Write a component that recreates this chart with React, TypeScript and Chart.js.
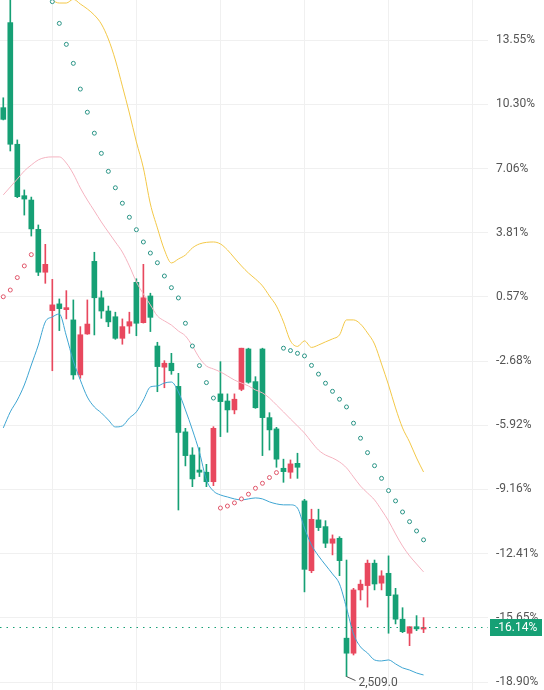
import React, { useEffect, useRef } from "react";
import { Chart, registerables } from "chart.js";

Chart.register(...registerables);

// Candle values (percent change axis)
const opens = [10.14, 14.44, 8.29, 5.69, 5.47, 3.99, 1.82, -0.12, 0.22, -0.07, -0.59, -3.37, -1.3, 2.37, 0.53, -0.14, -0.43, -1.52, -0.9, 1.31, -0.73, 0.62, -1.91, -2.98, -2.78, -3.95, -6.25, -7.42, -8.18, -8.29, -8.77, -4.33, -4.69, -5.14, -4.1, -2.06, -3.71, -2.06, -5.53, -6.1, -8.09, -8.29, -7.84, -9.74, -13.27, -10.7, -11.04, -11.88, -11.63, -16.68, -17.44, -14.24, -14.02, -12.89, -13.9, -13.4, -14.49, -15.72, -16.43, -16.1, -16.22];
const highs = [10.64, 15.9, 8.51, 5.98, 5.62, 4.21, 3.23, 1.46, 0.47, 0.89, 0.42, -0.93, 0.42, 2.83, 0.87, 0.11, -0.2, -0.54, -0.2, 1.49, 2.22, 0.76, -1.72, -2.65, -2.28, -3.29, -6.07, -7.05, -7.05, -7.89, -5.99, -2.7, -4.33, -4.33, -2.02, -2.02, -3.46, -2.02, -5.28, -6.02, -7.63, -7.67, -7.33, -9.66, -10.16, -10.16, -10.74, -11.46, -11.55, -12.73, -14.16, -13.74, -12.73, -12.73, -13.27, -12.52, -14.16, -15.14, -16.1, -15.54, -15.64];
const lows = [9.52, 7.95, 5.59, 4.71, 3.65, 1.65, 1.26, -3.16, -1.13, -0.54, -3.59, -3.54, -1.32, -1.35, -0.51, -0.93, -1.57, -1.82, -1.27, -1.39, -0.75, -1.18, -4.22, -4.02, -3.34, -10.2, -7.97, -9.02, -8.51, -9.02, -8.97, -6.49, -6.27, -5.34, -4.17, -3.79, -5.06, -7.45, -7.17, -8.04, -8.8, -8.6, -8.6, -14.34, -13.37, -11.24, -12.1, -12.47, -13.52, -18.62, -17.53, -14.75, -15.11, -14.24, -14.24, -16.43, -15.96, -16.4, -17.06, -16.3, -16.4];
const closes = [9.55, 8.29, 5.64, 5.52, 4.01, 1.82, 2.22, 0.17, -0.02, 0.03, -3.37, -1.34, -0.8, 0.53, -0.14, -0.69, -1.52, -0.93, -0.68, -0.76, 0.53, -0.46, -2.95, -2.78, -3.16, -6.28, -7.45, -8.63, -8.29, -8.77, -6.07, -4.72, -5.14, -4.6, -2.02, -3.74, -5.03, -5.53, -6.15, -7.63, -8.26, -7.87, -8.04, -13.2, -10.67, -11.09, -11.88, -11.66, -12.76, -17.44, -14.24, -13.95, -12.89, -13.94, -13.53, -14.53, -15.72, -16.35, -16.1, -16.21, -16.14];

// Bollinger-style bands
const upperBand = [null, null, null, null, null, null, 16.09, 15.6, 15.43, 15.43, 15.62, 15.38, 15.13, 14.82, 14.37, 13.61, 12.55, 11.23, 9.87, 8.41, 7.09, 5.27, 4.06, 2.95, 2.29, 2.49, 2.69, 3.05, 3.25, 3.33, 3.35, 3.25, 2.95, 2.54, 2.14, 1.78, 1.48, 1.13, 0.62, 0.11, -0.69, -1.65, -1.93, -1.65, -1.98, -1.86, -1.7, -1.55, -1.35, -0.59, -0.59, -0.8, -1.25, -1.81, -2.82, -3.88, -5.04, -6.05, -6.76, -7.57, -8.28];
const middleBand = [5.73, 6.13, 6.53, 6.94, 7.24, 7.5, 7.62, 7.65, 7.65, 7.34, 6.79, 6.08, 5.47, 4.92, 4.36, 3.85, 3.35, 2.84, 2.14, 1.33, 0.72, 0.17, -0.39, -0.64, -0.85, -1.15, -1.4, -1.91, -2.51, -2.92, -3.07, -3.22, -3.42, -3.63, -3.78, -3.93, -4.13, -4.28, -4.54, -4.89, -5.24, -5.6, -5.95, -6.31, -6.76, -7.17, -7.42, -7.57, -7.77, -8.07, -8.53, -8.99, -9.34, -9.69, -10.2, -10.75, -11.41, -12.02, -12.52, -12.93, -13.33];
const lowerBand = [-6.05, -5.24, -4.64, -3.88, -2.87, -1.86, -0.69, -0.44, -0.29, -1.4, -2.67, -3.63, -4.49, -4.99, -5.29, -5.65, -6.0, -5.95, -5.55, -5.24, -4.64, -3.98, -3.93, -3.78, -3.73, -4.23, -5.14, -6.15, -7.27, -8.68, -9.24, -9.44, -9.54, -9.64, -9.69, -9.64, -9.59, -9.64, -9.79, -9.89, -9.94, -9.94, -10.1, -11.11, -11.97, -12.52, -12.98, -13.43, -13.94, -15.15, -16.47, -17.12, -17.43, -17.78, -17.83, -17.78, -17.98, -18.18, -18.29, -18.44, -18.54];

// Parabolic SAR dots
const sarAbove = [null, null, null, null, null, null, null, 15.5, 14.4, 13.34, 12.38, 11.08, 9.91, 8.85, 7.83, 6.92, 6.09, 5.31, 4.6, 3.97, 3.35, 2.79, 2.3, 1.63, 1.04, 0.52, -0.76, -1.91, -2.9, -3.76, -4.54, null, null, null, null, null, null, null, null, null, -2.02, -2.14, -2.28, -2.41, -2.89, -3.33, -3.79, -4.2, -4.6, -4.99, -5.81, -6.57, -7.3, -7.96, -8.6, -9.22, -9.74, -10.3, -10.79, -11.26, -11.71];
const sarBelow = [0.58, 0.92, 1.55, 2.14, 2.71, null, null, null, null, null, null, null, null, null, null, null, null, null, null, null, null, null, null, null, null, null, null, null, null, null, null, -10.1, -10.0, -9.84, -9.64, -9.4, -9.1, -8.85, -8.56, -8.31, null, null, null, null, null, null, null, null, null, null, null, null, null, null, null, null, null, null, null, null, null];

const yTicks = [13.55, 10.3, 7.06, 3.81, 0.57, -2.68, -5.92, -9.16, -12.41, -15.65, -18.9];
const xGridTicks = [7, 19, 31, 43, 55, 67];
const lastPrice = -16.14;
const lastPriceLabel = "-16.14%";
const lowIndex = 49;
const lowLabel = "2,509.0";

const GREEN = "#16a075";
const RED = "#e8485e";
const FONT = "Roboto, 'Noto Sans', sans-serif";

const zeroPad = (s: any) => {
  s.paddingTop = 0;
  s.paddingBottom = 0;
  s.paddingLeft = 0;
  s.paddingRight = 0;
};

export default function App() {
  const ref = useRef<HTMLCanvasElement>(null);

  useEffect(() => {
    if (!ref.current) return;
    const idx = opens.map((_, i) => i);
    const colors = idx.map((i) => (closes[i] >= opens[i] ? RED : GREEN));
    const wicks = idx.map((i) => ({ x: i, y: [lows[i], highs[i]] }));
    const bodies = idx.map((i) => ({
      x: i,
      y: [Math.min(opens[i], closes[i]), Math.max(opens[i], closes[i])],
    }));
    const toPts = (arr: (number | null)[]) =>
      arr.map((v, i) => (v === null ? null : { x: i, y: v })).filter((p) => p !== null);

    const overlay = {
      id: "overlay",
      afterDatasetsDraw(chart: any) {
        const { ctx, chartArea, scales } = chart;
        const y = Math.round(scales.y.getPixelForValue(lastPrice)) + 0.5;
        ctx.save();
        ctx.strokeStyle = GREEN;
        ctx.lineWidth = 1;
        ctx.setLineDash([1.5, 5]);
        ctx.beginPath();
        ctx.moveTo(chartArea.left, y);
        ctx.lineTo(chartArea.right, y);
        ctx.stroke();
        ctx.setLineDash([]);
        const lx = scales.x.getPixelForValue(lowIndex);
        const ly = scales.y.getPixelForValue(lows[lowIndex]);
        ctx.strokeStyle = "#555";
        ctx.beginPath();
        ctx.moveTo(lx, ly);
        ctx.lineTo(lx + 9, ly + 4);
        ctx.stroke();
        ctx.fillStyle = "#555";
        ctx.font = `12px ${FONT}`;
        ctx.textBaseline = "middle";
        ctx.textAlign = "left";
        ctx.fillText(lowLabel, lx + 12, ly + 6);
        ctx.restore();
      },
      afterDraw(chart: any) {
        const { ctx, scales } = chart;
        const y = scales.y.getPixelForValue(lastPrice);
        ctx.save();
        ctx.fillStyle = GREEN;
        ctx.fillRect(490, Math.round(y) - 8, 52, 17);
        ctx.fillStyle = "#fff";
        ctx.font = `12px ${FONT}`;
        ctx.textBaseline = "middle";
        ctx.textAlign = "left";
        ctx.fillText(lastPriceLabel, 495, Math.round(y) + 1);
        ctx.restore();
      },
    };

    const chart = new Chart(ref.current, {
      type: "bar",
      data: {
        datasets: [
          {
            type: "line",
            data: toPts(sarAbove),
            showLine: false,
            pointRadius: 2,
            pointBorderWidth: 1,
            pointBackgroundColor: "#fff",
            pointBorderColor: "#2a9486",
            order: 0,
          },
          {
            type: "line",
            data: toPts(sarBelow),
            showLine: false,
            pointRadius: 2,
            pointBorderWidth: 1,
            pointBackgroundColor: "#fff",
            pointBorderColor: "#e0566a",
            order: 0,
          },
          {
            type: "line",
            data: toPts(upperBand),
            borderColor: "#f3c848",
            borderWidth: 1,
            pointRadius: 0,
            cubicInterpolationMode: "monotone",
            order: 1,
          },
          {
            type: "line",
            data: toPts(middleBand),
            borderColor: "#f5b3c0",
            borderWidth: 1,
            pointRadius: 0,
            cubicInterpolationMode: "monotone",
            order: 1,
          },
          {
            type: "line",
            data: toPts(lowerBand),
            borderColor: "#3ea5d2",
            borderWidth: 1,
            pointRadius: 0,
            cubicInterpolationMode: "monotone",
            order: 1,
          },
          {
            type: "bar",
            data: bodies as any,
            backgroundColor: colors,
            barThickness: 5,
            minBarLength: 1,
            grouped: false,
            order: 2,
          },
          {
            type: "bar",
            data: wicks as any,
            backgroundColor: colors,
            barThickness: 1,
            grouped: false,
            order: 3,
          },
        ] as any,
      },
      options: {
        animation: false,
        responsive: false,
        maintainAspectRatio: false,
        layout: { padding: 0, autoPadding: false },
        plugins: { legend: { display: false }, tooltip: { enabled: false } },
        scales: {
          x: {
            type: "linear",
            min: -0.47,
            max: 69.2,
            offset: false,
            grid: { color: "#f0f0f0", drawTicks: false, offset: false },
            border: { display: false },
            ticks: { display: false },
            afterBuildTicks: (s: any) => {
              s.ticks = xGridTicks.map((v) => ({ value: v }));
            },
            afterFit: (s: any) => {
              s.height = 0;
              zeroPad(s);
            },
          },
          y: {
            position: "right",
            min: -19.3,
            max: 15.583,
            grid: { color: "#f0f0f0", drawTicks: false },
            border: { display: false },
            afterBuildTicks: (s: any) => {
              s.ticks = yTicks.map((v) => ({ value: v }));
            },
            afterFit: (s: any) => {
              s.width = 56;
              zeroPad(s);
            },
            ticks: {
              crossAlign: "near",
              padding: 8,
              color: "#555",
              font: { size: 12, family: FONT },
              callback: (v: any) => Number(v).toFixed(2) + "%",
            },
          },
        },
      } as any,
      plugins: [overlay],
    });
    return () => chart.destroy();
  }, []);

  return (
    <div style={{ position: "fixed", left: 0, top: 0, width: 544, height: 690, background: "#fff" }}>
      <canvas ref={ref} width={544} height={690} style={{ width: 544, height: 690, display: "block" }} />
    </div>
  );
}
